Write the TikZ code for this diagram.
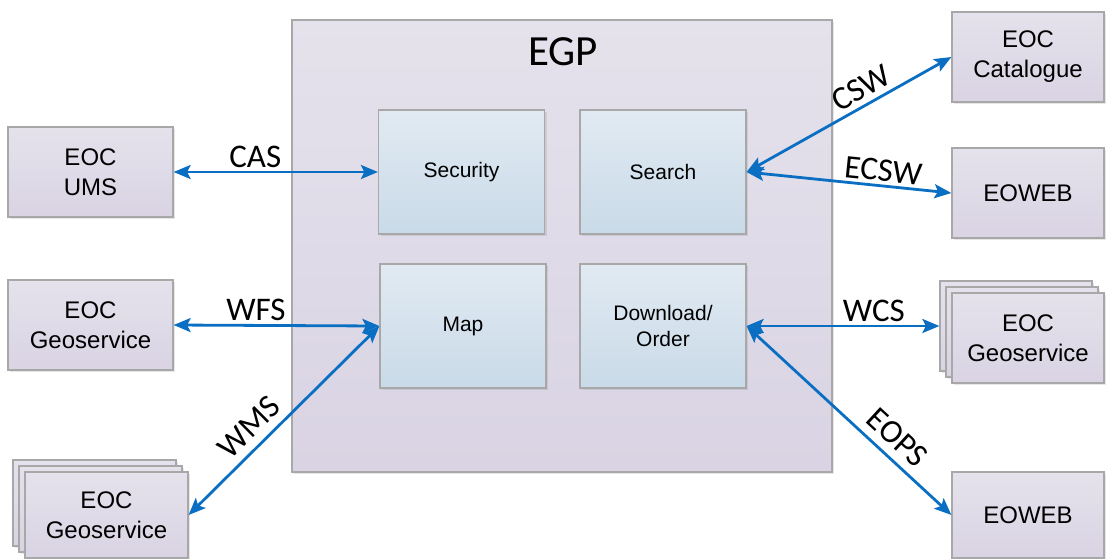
\documentclass[tikz,border=0pt]{standalone}
\usepackage{fontspec}
\setmainfont{Liberation Sans}
\newfontfamily\calibri{Carlito}
\usetikzlibrary{arrows.meta, shadows}

\definecolor{egpTop}{HTML}{E5E2EC}
\definecolor{egpBot}{HTML}{D9D3E3}
\definecolor{modTop}{HTML}{E1EAF2}
\definecolor{modBot}{HTML}{C9DAE8}
\definecolor{linkBlue}{HTML}{0A6FC2}
\definecolor{edgeGray}{HTML}{A8A8A8}

\begin{document}
\begin{tikzpicture}[x=1pt, y=-1pt,
    box/.style={draw=edgeGray, line width=1.2pt, top color=egpTop, bottom color=egpBot,
      inner sep=0pt, align=center, font=\fontsize{24}{30}\selectfont,
      drop shadow={opacity=0.2, shadow xshift=2pt, shadow yshift=-2pt}},
    ext/.style={box, minimum width=165pt, minimum height=90pt},
    extR/.style={box, minimum width=152pt, minimum height=90pt},
    module/.style={draw=edgeGray, line width=1.2pt, top color=modTop, bottom color=modBot,
      inner sep=0pt, align=center, minimum width=166pt, minimum height=124pt,
      font=\fontsize{21}{26}\selectfont,
      drop shadow={opacity=0.2, shadow xshift=2pt, shadow yshift=-2pt}},
    link/.style={draw=linkBlue, line width=2.8pt, {Stealth[length=17pt,width=14pt,inset=3.5pt]}-{Stealth[length=17pt,width=14pt,inset=3.5pt]}},
    proto/.style={font=\calibri\fontsize{33}{33}\selectfont, inner sep=3pt}]

  \useasboundingbox (0,0) rectangle (1106,558);

  % EGP portal with its four modules
  \node[box, minimum width=540pt, minimum height=452pt] (egp) at (562,246) {};
  \node[font=\calibri\fontsize{43}{43}\selectfont] (egpLabel) at (563,52) {EGP};
  \node[module] (security) at (461.5,172) {Security};
  \node[module] (search) at (663,172) {Search};
  \node[module] (map) at (463,326) {Map};
  \node[module] (download) at (663,326) {Download/\\Order};

  % external services, left side
  \node[ext] (ums) at (90.5,172) {EOC\\UMS};
  \node[ext] (geoWfs) at (90.5,325) {EOC\\Geoservice};
  \node[box, minimum width=163pt, minimum height=86pt] (geoWmsA) at (94.5,503) {};
  \node[box, minimum width=163pt, minimum height=86pt] (geoWmsB) at (100.5,509) {};
  \node[box, minimum width=163pt, minimum height=86pt] (geoWms) at (106.5,515) {EOC\\Geoservice};

  % external services, right side
  \node[extR] (catalogue) at (1028,57) {EOC\\Catalogue};
  \node[extR] (eowebTop) at (1028,193) {EOWEB};
  \node[extR] (geoWcsA) at (1016,326) {};
  \node[extR] (geoWcsB) at (1022,332) {};
  \node[extR] (geoWcs) at (1028,338) {EOC\\Geoservice};
  \node[extR, minimum height=86pt] (eowebBot) at (1028,515) {EOWEB};

  % interfaces
  \draw[link] (ums.east) -- (security.west) node[proto, pos=0.4, above] {CAS};
  \draw[link] (geoWfs.east) -- (map.west) node[proto, pos=0.4, above] {WFS};
  \draw[link] (geoWms.east) -- (map.west) node[proto, pos=0.39, sloped, above=5pt] {WMS};
  \draw[link] (search.east) -- (catalogue.west) node[proto, pos=0.6, sloped, above=2pt] {CSW};
  \draw[link] (search.east) -- (eowebTop.west) node[proto, pos=0.66, sloped, above] {ECSW};
  \draw[link] (download.east) -- (geoWcsA.west) node[proto, pos=0.66, above] {WCS};
  \draw[link] (download.east) -- (eowebBot.west) node[proto, pos=0.67, sloped, above=5pt] {EOPS};

\end{tikzpicture}
\end{document}
